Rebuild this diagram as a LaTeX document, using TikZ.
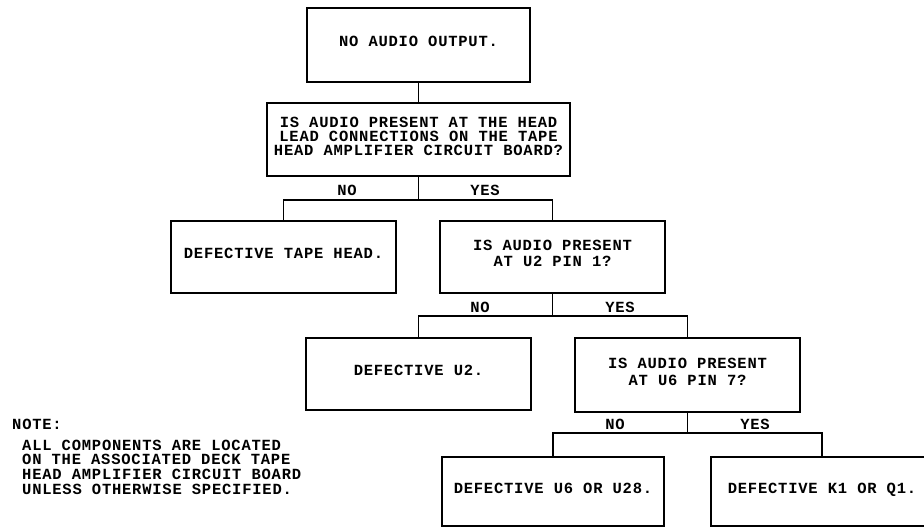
\documentclass[tikz,border=0pt]{standalone}
\usepackage{fontspec}
\newfontfamily\plotfont[LetterSpace=5]{Liberation Mono}
\begin{document}
\begin{tikzpicture}[x=1pt,y=-1pt,
  plot/.style={font=\plotfont\bfseries\fontsize{15.5}{14}\selectfont},
  chartbox/.style={plot,draw,line width=1.7pt,minimum width=225pt,minimum height=72pt,
    align=center,inner sep=2pt,text depth=7pt},
  wire/.style={line width=1.4pt},
  answer/.style={plot,inner sep=0pt}]
  \clip (0,0) rectangle (924,528);
  \fill[white] (0,0) rectangle (924,528);
  % question and result boxes
  \node[chartbox,minimum width=223pt,minimum height=74pt] (noout) at (418.5,45) {NO AUDIO OUTPUT.};
  \node[chartbox,minimum width=303pt,minimum height=73pt] (headq) at (418.5,139.5)
    {IS AUDIO PRESENT AT THE HEAD\\LEAD CONNECTIONS ON THE TAPE\\HEAD AMPLIFIER CIRCUIT BOARD?};
  \node[chartbox] (tapehead) at (283.5,257) {DEFECTIVE TAPE HEAD.};
  \node[chartbox] (utwoq) at (552.5,257) {IS AUDIO PRESENT\\[2pt]AT U2 PIN 1?};
  \node[chartbox] (utwo) at (418.5,374) {DEFECTIVE U2.};
  \node[chartbox,minimum height=74pt] (usixq) at (687.5,375) {IS AUDIO PRESENT\\[3pt]AT U6 PIN 7?};
  \node[chartbox,minimum width=222pt,minimum height=69pt] (usix) at (553,491.5) {DEFECTIVE U6 OR U28.};
  \node[chartbox,minimum width=222pt,minimum height=69pt] (kone) at (822,491.5) {DEFECTIVE K1 OR Q1.};
  % branch points
  \coordinate (jhead) at (418.5,200);
  \coordinate (jutwo) at (552.5,316);
  \coordinate (jusix) at (687.5,433);
  % connectors
  \draw[wire] (noout) -- (headq);
  \draw[wire] (headq) -- (jhead) -| (tapehead);
  \draw[wire] (jhead) -| (utwoq);
  \draw[wire] (utwoq) -- (jutwo) -| (utwo);
  \draw[wire] (jutwo) -| (usixq);
  \draw[wire] (usixq) -- (jusix) -| (usix);
  \draw[wire] (jusix) -| (kone);
  % answers
  \node[answer] (no1) at (347,190) {NO};
  \node[answer] (yes1) at (485,190) {YES};
  \node[answer] (no2) at (480,307) {NO};
  \node[answer] (yes2) at (620,307) {YES};
  \node[answer] (no3) at (615,424) {NO};
  \node[answer] (yes3) at (755,424) {YES};
  % note
  \node[answer,anchor=west] (notehead) at (12,424) {NOTE:};
  \node[answer,anchor=west,align=left,font=\plotfont\bfseries\fontsize{15.5}{14.7}\selectfont] (notetext) at (22,467)
    {ALL COMPONENTS ARE LOCATED\\ON THE ASSOCIATED DECK TAPE\\HEAD AMPLIFIER CIRCUIT BOARD\\UNLESS OTHERWISE SPECIFIED.};
\end{tikzpicture}
\end{document}
